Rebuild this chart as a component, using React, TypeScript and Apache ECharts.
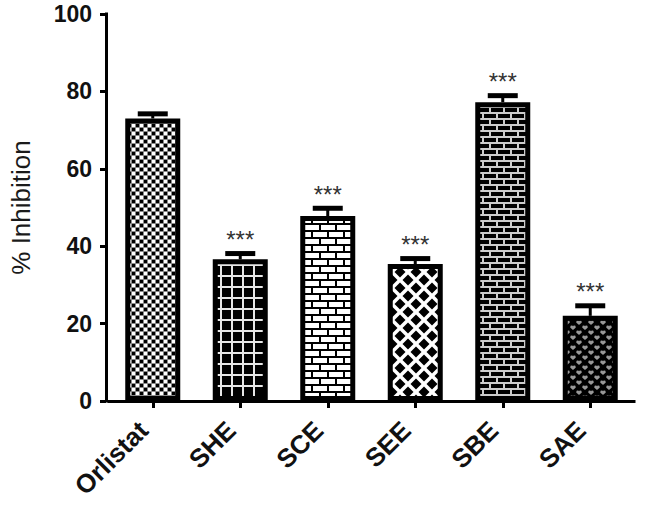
import React, { useEffect, useRef } from "react";
import * as echarts from "echarts";

const categories = ["Orlistat", "SHE", "SCE", "SEE", "SBE", "SAE"];
const means = [73.0, 36.6, 47.8, 35.4, 77.2, 22.0];
const sems = [1.2, 1.5, 2.0, 1.4, 1.7, 2.6];
const significance = ["", "***", "***", "***", "***", "***"];
const yTicks = [0, 20, 40, 60, 80, 100];

function tile(w: number, h: number, draw: (ctx: CanvasRenderingContext2D) => void) {
  const c = document.createElement("canvas");
  c.width = w;
  c.height = h;
  const ctx = c.getContext("2d") as CanvasRenderingContext2D;
  draw(ctx);
  return c;
}

function makePatterns() {
  const orlistat = tile(8, 8, (ctx) => {
    ctx.fillStyle = "#8a8a8a";
    ctx.fillRect(0, 0, 8, 8);
    ctx.fillStyle = "#ffffff";
    ctx.fillRect(0, 0, 3, 3);
    ctx.fillRect(4, 4, 3, 3);
    ctx.fillStyle = "#000000";
    ctx.fillRect(4, 0, 3, 3);
    ctx.fillRect(0, 4, 3, 3);
  });
  const she = tile(11, 11, (ctx) => {
    ctx.fillStyle = "#000000";
    ctx.fillRect(0, 0, 11, 11);
    ctx.fillStyle = "#e6e6e6";
    ctx.fillRect(0, 0, 11, 2);
    ctx.fillRect(0, 0, 2, 11);
  });
  const sce = tile(16, 14, (ctx) => {
    ctx.fillStyle = "#000000";
    ctx.fillRect(0, 0, 16, 14);
    ctx.fillStyle = "#ffffff";
    ctx.fillRect(1, 1, 14, 5);
    ctx.fillRect(0, 8, 7, 5);
    ctx.fillRect(9, 8, 7, 5);
  });
  const see = tile(16, 16, (ctx) => {
    ctx.fillStyle = "#ffffff";
    ctx.fillRect(0, 0, 16, 16);
    ctx.fillStyle = "#000000";
    const dia = (cx: number, cy: number, r: number) => {
      ctx.beginPath();
      ctx.moveTo(cx, cy - r);
      ctx.lineTo(cx + r, cy);
      ctx.lineTo(cx, cy + r);
      ctx.lineTo(cx - r, cy);
      ctx.closePath();
      ctx.fill();
    };
    dia(8, 8, 5.5);
    dia(0, 0, 5.5);
    dia(16, 0, 5.5);
    dia(0, 16, 5.5);
    dia(16, 16, 5.5);
  });
  const sbe = tile(14, 12, (ctx) => {
    ctx.fillStyle = "#cccccc";
    ctx.fillRect(0, 0, 14, 12);
    ctx.fillStyle = "#000000";
    ctx.fillRect(1, 0, 12, 4);
    ctx.fillRect(0, 6, 6, 4);
    ctx.fillRect(8, 6, 6, 4);
  });
  const sae = tile(12, 10, (ctx) => {
    ctx.fillStyle = "#000000";
    ctx.fillRect(0, 0, 12, 10);
    ctx.fillStyle = "#9a9a9a";
    const heart = (cx: number, cy: number) => {
      ctx.beginPath();
      ctx.arc(cx - 1.3, cy - 0.5, 1.4, 0, Math.PI * 2);
      ctx.arc(cx + 1.3, cy - 0.5, 1.4, 0, Math.PI * 2);
      ctx.fill();
      ctx.beginPath();
      ctx.moveTo(cx - 2.7, cy - 0.2);
      ctx.lineTo(cx + 2.7, cy - 0.2);
      ctx.lineTo(cx, cy + 2.6);
      ctx.closePath();
      ctx.fill();
    };
    heart(3, 2.5);
    heart(9, 7.5);
    heart(-3, 7.5);
    heart(15, 2.5);
  });
  return [orlistat, she, sce, see, sbe, sae];
}

export default function App() {
  const ref = useRef<HTMLDivElement>(null);
  useEffect(() => {
    if (!ref.current) return;
    const chart = echarts.init(ref.current, null, { renderer: "svg" });
    const patterns = makePatterns();
    const font = "Liberation Sans, Arial, sans-serif";
    const barData = means.map((v, i) => ({
      value: v,
      itemStyle: {
        color: { image: patterns[i], repeat: "repeat" } as any,
        borderColor: "#000",
        borderWidth: 5,
      },
    }));
    const errData = means.map((v, i) => [i, v, sems[i], significance[i]]);
    chart.setOption({
      animation: false,
      backgroundColor: "#ffffff",
      grid: { left: 100, right: 11, top: 14, bottom: 107, containLabel: false },
      xAxis: {
        type: "category",
        data: categories,
        boundaryGap: true,
        axisLine: { show: true, lineStyle: { color: "#000", width: 3, cap: "square" } },
        axisTick: { show: true, alignWithLabel: true, length: 7, lineStyle: { color: "#000", width: 3 } },
        axisLabel: {
          rotate: 45,
          margin: 34,
          verticalAlign: "bottom",
          color: "#111",
          fontSize: 26,
          fontWeight: "bold",
          fontFamily: font,
        },
        splitLine: { show: false },
      },
      yAxis: {
        type: "value",
        min: yTicks[0],
        max: yTicks[yTicks.length - 1],
        interval: 20,
        offset: 3,
        name: "% Inhibition",
        nameLocation: "middle",
        nameGap: 72,
        nameRotate: 90,
        nameTextStyle: { color: "#1a1a1a", fontSize: 26, fontFamily: font },
        axisLine: { show: true, lineStyle: { color: "#000", width: 3, cap: "square" } },
        axisTick: { show: true, length: 6, lineStyle: { color: "#000", width: 3 } },
        axisLabel: { margin: 14, color: "#111", fontSize: 23, fontWeight: "bold", fontFamily: font },
        splitLine: { show: false },
      },
      series: [
        {
          type: "bar",
          data: barData,
          barWidth: 55,
          z: 2,
        },
        {
          type: "custom",
          z: 3,
          encode: { x: 0, y: 1 },
          data: errData,
          renderItem: (params: any, api: any) => {
            const i = api.value(0);
            const v = api.value(1);
            const e = api.value(2);
            const sig = errData[params.dataIndex][3] as string;
            const base = api.coord([i, v]);
            const top = api.coord([i, v + e]);
            const half = 15;
            const children: any[] = [
              {
                type: "line",
                shape: { x1: base[0], y1: base[1], x2: top[0], y2: top[1] },
                style: { stroke: "#000", lineWidth: 3 },
              },
              {
                type: "line",
                shape: { x1: top[0] - half, y1: top[1], x2: top[0] + half, y2: top[1] },
                style: { stroke: "#000", lineWidth: 5 },
              },
            ];
            if (sig) {
              children.push({
                type: "text",
                x: top[0],
                y: top[1] - 14,
                style: {
                  text: sig,
                  fill: "#333",
                  fontSize: 24,
                  fontFamily: font,
                  align: "center",
                  verticalAlign: "middle",
                },
              });
            }
            return { type: "group", children };
          },
        },
      ],
    });
    return () => chart.dispose();
  }, []);
  return (
    <div
      ref={ref}
      style={{ position: "absolute", left: 0, top: 0, width: 645, height: 508 }}
    />
  );
}
